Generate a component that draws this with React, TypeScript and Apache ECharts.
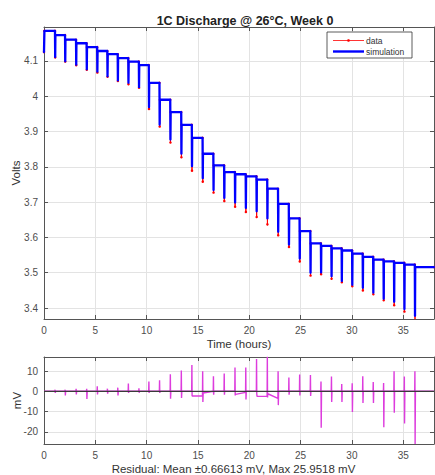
import React, { useEffect, useRef } from "react";
import * as echarts from "echarts";

// Pulse onset times (hours)
const pulseTimes = [0, 1.07, 2.05, 3.12, 4.15, 5.18, 6.17, 7.18, 8.21, 9.24, 10.21, 11.25, 12.3, 13.37, 14.4, 15.45, 16.5, 17.55, 18.6, 19.65, 20.7, 21.75, 22.8, 23.85, 24.9, 25.95, 26.98, 28.0, 29.0, 30.02, 31.05, 32.07, 33.08, 34.1, 35.1, 36.13];
// Rest (relaxed) voltage after each pulse (V)
const restVolts = [4.185, 4.173, 4.16, 4.15, 4.139, 4.128, 4.119, 4.108, 4.098, 4.088, 4.038, 3.99, 3.955, 3.919, 3.882, 3.837, 3.804, 3.785, 3.779, 3.773, 3.764, 3.738, 3.695, 3.654, 3.618, 3.583, 3.576, 3.569, 3.563, 3.554, 3.545, 3.537, 3.532, 3.528, 3.523, 3.516];
// Measured voltage at the bottom of each pulse (V)
const pulseMinVolts = [4.125, 4.11, 4.098, 4.088, 4.075, 4.067, 4.055, 4.043, 4.034, 4.024, 3.964, 3.914, 3.869, 3.827, 3.789, 3.758, 3.727, 3.703, 3.687, 3.672, 3.658, 3.637, 3.606, 3.573, 3.532, 3.492, 3.496, 3.483, 3.473, 3.462, 3.45, 3.439, 3.422, 3.408, 3.39, 3.368];
// Residual spikes per pulse (mV)
const residualPeaks = [0, 0.8, 0.8, 1.2, 1.2, 2.5, 1.3, 1.8, 3.8, 1.5, 4.8, 5.5, 8.4, 10.2, 12.9, 9.9, 7.4, 8.8, 11.7, 11.7, 15.9, 17.0, 9.9, 6.8, 8.3, 8.0, 4.8, 7.3, 3.6, 4.0, 7.4, 4.6, 4.1, 9.9, 7.3, 9.9];
const residualDips = [0, -0.8, -2.0, -1.5, -3.8, -1.5, -1.2, -2.0, -0.8, -0.7, -0.8, -0.8, -3.6, -3.3, -2.3, -5.3, -1.7, -1.7, -2.0, -4.0, -1.2, -3.0, -6.8, -1.7, -2.0, -2.3, -18.0, -5.3, -5.3, -10.2, -5.8, -5.8, -17.7, -10.6, -15.9, -25.95];
// Residual during the rest after each pulse (mV): start and end of the rest
const restResStart = [0, 0, 0, 0, 0, 0, 0, 0, 0, 0, 0, 0, 0, 0, -2.3, -0.8, 0, 0, -1.5, 0, -2.5, -1.2, 0, 0, 0, 0, 0, 0, 0, 0, 0, 0, 0, 0, 0, 0];
const restResEnd = [0, 0, 0, 0, 0, 0, 0, 0, 0, 0, 0, 0, 0, 0, -2.3, 0, 0, 0, -0.5, 0, -2.5, -3.5, 0, 0, 0, 0, 0, 0, 0, 0, 0, 0, 0, 0, 0, 0];

const X_MAX = 38;
const V_MIN = 3.369;
const V_MAX = 4.196;
const R_MIN = -25.95;
const R_MAX = 16.9;

const FONT = "'Liberation Sans', Arial, Helvetica, sans-serif";

function buildVoltage(useSim: boolean): number[][] {
  const pts: number[][] = [];
  pulseTimes.forEach((t, k) => {
    const bottom = useSim ? pulseMinVolts[k] + residualPeaks[k] / 1000 : pulseMinVolts[k];
    if (k > 0) pts.push([t, restVolts[k - 1]]);
    pts.push([k > 0 ? t + 0.02 : t, bottom]);
    pts.push([t + 0.04, restVolts[k]]);
  });
  pts.push([X_MAX, restVolts[restVolts.length - 1]]);
  return pts;
}

function buildResidual(): number[][] {
  const pts: number[][] = [[0, 0]];
  pulseTimes.forEach((t, k) => {
    const prevEnd = k > 0 ? restResEnd[k - 1] : 0;
    const nextT = k < pulseTimes.length - 1 ? pulseTimes[k + 1] : X_MAX;
    pts.push([t, prevEnd]);
    pts.push([t + 0.01, residualPeaks[k]]);
    pts.push([t + 0.03, residualDips[k]]);
    pts.push([t + 0.06, restResStart[k]]);
    pts.push([nextT - 0.01, restResEnd[k]]);
  });
  return pts;
}

const axisLineStyle = { color: "#555", width: 1 };
const labelStyle = { fontSize: 10, color: "#4d4d4d", fontFamily: FONT };
const splitStyle = { lineStyle: { color: "#e3e3e3", width: 1 } };

function xAxisPair(gridIndex: number, name: string, namePadding: number[]) {
  return [
    {
      type: "value",
      gridIndex,
      position: "bottom",
      min: 0,
      max: X_MAX,
      interval: 5,
      axisLine: { show: true, onZero: false, lineStyle: axisLineStyle },
      axisTick: { show: true, inside: true, length: 4, lineStyle: axisLineStyle },
      axisLabel: { ...labelStyle, margin: 6, showMaxLabel: false },
      splitLine: { show: true, ...splitStyle },
      name,
      nameLocation: "middle",
      nameGap: 19,
      nameMoveOverlap: false,
      nameTextStyle: { fontSize: 11.5, color: "#333", fontFamily: FONT, padding: namePadding },
    },
    {
      type: "value",
      gridIndex,
      position: "top",
      min: 0,
      max: X_MAX,
      interval: 5,
      axisLine: { show: true, onZero: false, lineStyle: axisLineStyle },
      axisTick: { show: true, inside: true, length: 4, lineStyle: axisLineStyle },
      axisLabel: { show: false },
      splitLine: { show: false },
    },
  ];
}

function yAxisPair(gridIndex: number, min: number, max: number, splitNumber: number, name: string, nameGap: number) {
  return [
    {
      type: "value",
      gridIndex,
      position: "left",
      min,
      max,
      splitNumber,
      axisLine: { show: true, onZero: false, lineStyle: axisLineStyle },
      axisTick: { show: true, inside: true, length: 4, lineStyle: axisLineStyle },
      axisLabel: { ...labelStyle, margin: 6, showMinLabel: false, showMaxLabel: false },
      splitLine: { show: true, ...splitStyle },
      name,
      nameLocation: "middle",
      nameGap,
      nameRotate: 90,
      nameMoveOverlap: false,
      nameTextStyle: { fontSize: 11.5, color: "#333", fontFamily: FONT },
    },
    {
      type: "value",
      gridIndex,
      position: "right",
      min,
      max,
      splitNumber,
      axisLine: { show: true, onZero: false, lineStyle: axisLineStyle },
      axisTick: { show: true, inside: true, length: 4, lineStyle: axisLineStyle },
      axisLabel: { show: false },
      splitLine: { show: false },
    },
  ];
}

export default function App() {
  const ref = useRef<HTMLDivElement>(null);

  useEffect(() => {
    if (!ref.current) return;
    const chart = echarts.init(ref.current, undefined, { renderer: "svg" });
    const option = {
      animation: false,
      backgroundColor: "#ffffff",
      title: {
        text: "1C Discharge @ 26°C, Week 0",
        left: 240,
        top: 9,
        textAlign: "center",
        textStyle: { fontSize: 12.5, fontWeight: "bold", color: "#222", fontFamily: FONT },
      },
      grid: [
        { left: 44, right: 1, top: 27, height: 292, containLabel: false, outerBoundsMode: "none" },
        { left: 44, right: 1, top: 357, height: 87, containLabel: false, outerBoundsMode: "none" },
      ],
      xAxis: [
        ...xAxisPair(0, "Time (hours)", [0, 0, 0, 0]),
        ...xAxisPair(1, "Residual: Mean ±0.66613 mV, Max 25.9518 mV", [0, 11, 0, 0]),
      ],
      yAxis: [
        ...yAxisPair(0, V_MIN, V_MAX, 8, "Volts", 22),
        ...yAxisPair(1, R_MIN, R_MAX, 4, "mV", 21),
      ],
      series: [
        {
          name: "data",
          type: "line",
          xAxisIndex: 0,
          yAxisIndex: 0,
          data: buildVoltage(false),
          symbol: "circle",
          symbolSize: 2.5,
          showSymbol: true,
          itemStyle: { color: "#ff0000" },
          lineStyle: { color: "#ff0000", width: 1 },
          z: 2,
        },
        {
          name: "simulation",
          type: "line",
          xAxisIndex: 0,
          yAxisIndex: 0,
          data: buildVoltage(true),
          symbol: "none",
          lineStyle: { color: "#0000ff", width: 2.3, join: "round", cap: "round" },
          z: 3,
        },
        {
          name: "residual",
          type: "line",
          xAxisIndex: 2,
          yAxisIndex: 2,
          data: buildResidual(),
          symbol: "none",
          lineStyle: { color: "#dd3cdd", width: 1.4 },
          z: 2,
        },
        {
          name: "zero",
          type: "line",
          xAxisIndex: 2,
          yAxisIndex: 2,
          data: [[0, 0], [X_MAX, 0]],
          symbol: "none",
          lineStyle: { color: "#3a3a3a", width: 1.2 },
          z: 3,
        },
      ],
      graphic: [
        {
          type: "rect",
          shape: { x: 327, y: 32, width: 85, height: 26 },
          style: { fill: "#ffffff", stroke: "#333333", lineWidth: 0.8 },
          z: 10,
        },
        {
          type: "line",
          shape: { x1: 333, y1: 40.5, x2: 364, y2: 40.5 },
          style: { stroke: "#ff0000", lineWidth: 0.8 },
          z: 11,
        },
        {
          type: "circle",
          shape: { cx: 348.5, cy: 40.5, r: 1.3 },
          style: { fill: "#ff0000" },
          z: 11,
        },
        {
          type: "line",
          shape: { x1: 333, y1: 51.5, x2: 364, y2: 51.5 },
          style: { stroke: "#0000ff", lineWidth: 2.4 },
          z: 11,
        },
        {
          type: "text",
          x: 366,
          y: 40.5,
          style: { text: "data", fontSize: 8.5, fill: "#333", fontFamily: FONT, verticalAlign: "middle" },
          z: 11,
        },
        {
          type: "text",
          x: 366,
          y: 51.5,
          style: { text: "simulation", fontSize: 8.5, fill: "#333", fontFamily: FONT, verticalAlign: "middle" },
          z: 11,
        },
      ],
    };
    chart.setOption(option as any);
    return () => {
      chart.dispose();
    };
  }, []);

  return (
    <div
      ref={ref}
      style={{ position: "fixed", left: 0, top: 0, width: 435, height: 475, background: "#fff" }}
    />
  );
}
